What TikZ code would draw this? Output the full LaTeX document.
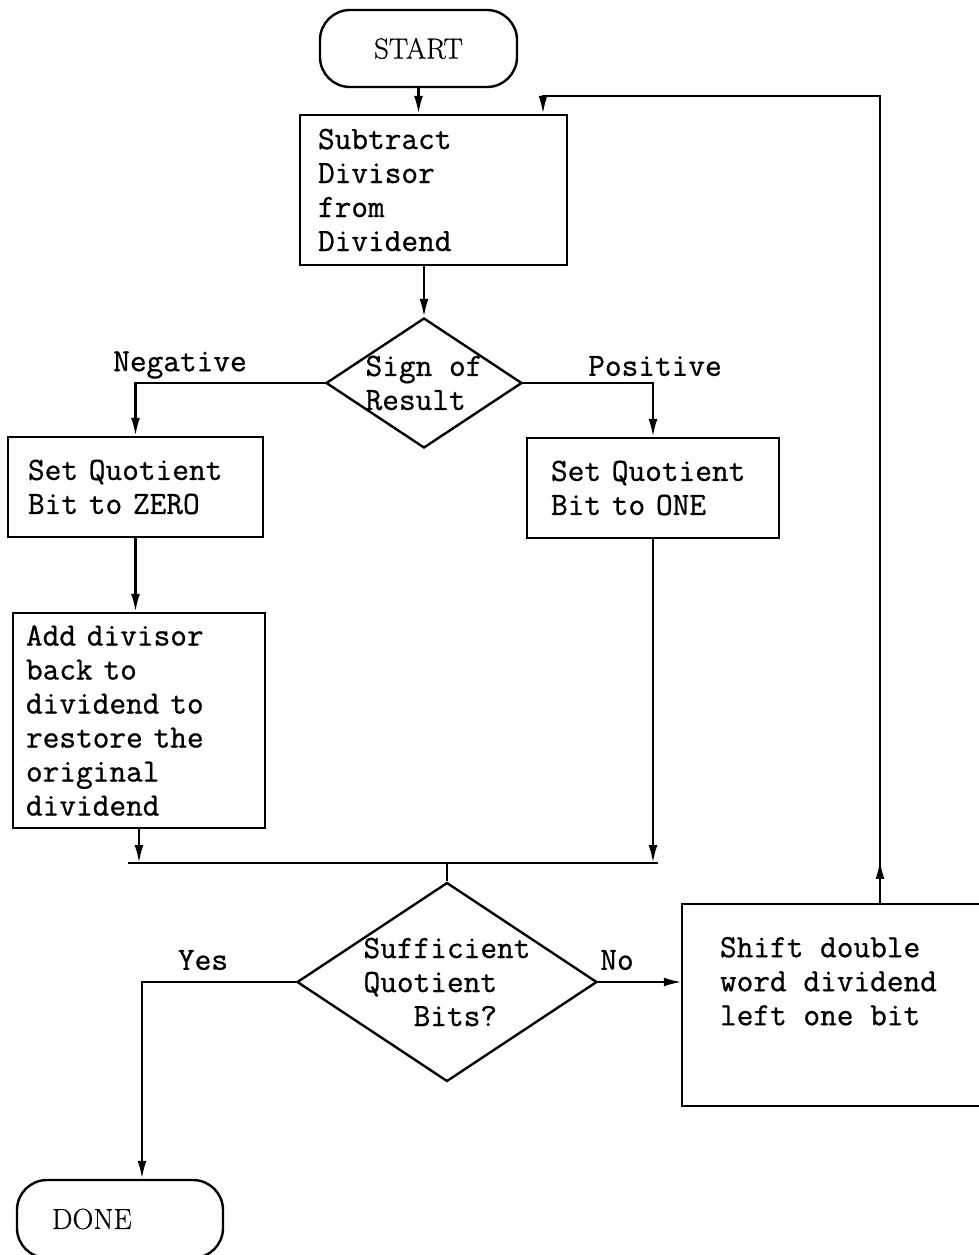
\documentclass[tikz,border=0pt]{standalone}
\usepackage{fontspec}
\setmainfont{Latin Modern Roman}[FakeBold=0.6]
\setmonofont{Latin Modern Mono}[FakeBold=0.8]
\usetikzlibrary{arrows.meta,shapes.geometric}

\tikzset{
  process/.style={draw, rectangle, align=left, inner sep=0pt},
  decision/.style={draw, diamond, inner sep=0pt},
  terminal/.style={draw, rounded corners=15pt, font=\rmfamily\fontsize{14.5}{16}\selectfont},
}

\begin{document}
\begin{tikzpicture}[x=0.5pt,y=-0.5pt,line width=1.2pt,>={Latex[length=9pt,width=4.5pt]},
  every node/.style={font=\ttfamily\fontsize{16.2}{17}\selectfont}]
  \useasboundingbox (0,0) rectangle (979,1255);

  % terminals
  \node[terminal, minimum width=98.5pt, minimum height=38.5pt] (start) at (418.5,48.5) {START};
  \node[terminal, minimum width=103pt, minimum height=39pt, text width=68pt, align=left] (done) at (120,1219) {DONE};

  % processing steps
  \node[process, minimum width=133.5pt, minimum height=75pt, text width=115.5pt] (sub) at (433.5,190)
    {Subtract\\Divisor\\from\\Dividend};
  \node[process, minimum width=127.5pt, minimum height=50pt, text width=107.5pt] (zero) at (135.5,487)
    {Set Quotient\\Bit to ZERO};
  \node[process, minimum width=126pt, minimum height=50pt, text width=102pt] (one) at (653,488)
    {Set Quotient\\Bit to ONE};
  \node[process, minimum width=126pt, minimum height=107.5pt, text width=113pt] (add) at (139,720.5)
    {Add divisor\\back to\\dividend to\\restore the\\original\\dividend};
  \node[rectangle, inner xsep=18.5pt, inner ysep=16pt] (shift) at (839,1005)
    {\parbox[c][68pt][t]{119pt}{Shift double\\word dividend\\left one bit}};
  % its right side runs off the sheet
  \draw ([xshift=40pt]shift.north east) -- (shift.north west) -- (shift.south west) -- ([xshift=40pt]shift.south east);

  % tests
  \node[decision, minimum width=98pt, minimum height=65pt] (sign) at (424,383) {};
  \node[align=left] (signtxt) at (sign) {Sign of\\Result};
  \node[decision, minimum width=150pt, minimum height=99.5pt] (quot) at (447,982) {};
  \node[align=left] (quottxt) at (quot) {Sufficient\\Quotient\\\hphantom{Quo}Bits?};

  % branch labels
  \node (neg) at (180,365) {Negative};
  \node (pos) at (655,366) {Positive};
  \node (yes) at (203,960) {Yes};
  \node (no)  at (617,960) {No};

  \coordinate (joinL) at (128,863);
  \coordinate (joinR) at (658,863);
  \coordinate (backR) at (880,96);
  \coordinate (backL) at (543,96);

  \draw[->] (start.south) -- (start.south |- sub.north);
  \draw[->] (sign.north |- sub.south) -- (sign.north);
  \draw[->] (sign.west) -| (zero.north);
  \draw[->] (sign.east) -| (one.north);
  \draw[->] (zero.south) -- (zero.south |- add.north);

  % both branches meet again
  \draw (joinL) -- (joinR);
  \draw[->] (add.south) -- (add.south |- joinL);
  \draw[->] (one.south) -- (one.south |- joinR);
  \draw (quot.north |- joinL) -- (quot.north);

  \draw[->] (quot.west) -| ([xshift=11pt]done.north);
  \draw[->] (quot.east) -- (quot.east -| shift.west);

  % loop back to the subtraction
  \draw[->] (shift.north -| backR) |- (backL) -- (backL |- sub.north);
  \draw[->] (shift.north -| backR) -- ++(0,-43);
\end{tikzpicture}
\end{document}
